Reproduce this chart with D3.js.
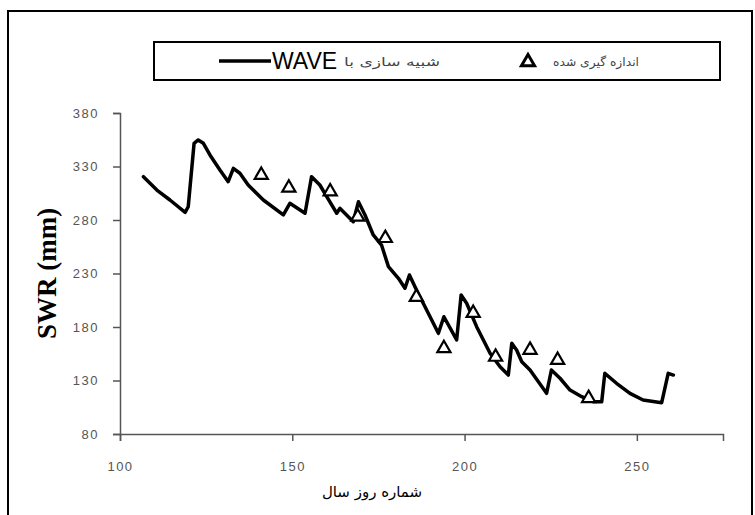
<!DOCTYPE html>
<html lang="fa">
<head>
<meta charset="utf-8">
<title>SWR</title>
<script src="https://cdnjs.cloudflare.com/ajax/libs/d3/7.8.5/d3.min.js"></script>
<style>
  body { margin: 0; background: #fff; }
  svg { display: block; }
</style>
</head>
<body>
<script>
// simulated with WAVE (day of year, SWR mm)
var simDays = [106.8,110.7,114.5,118.9,119.8,121.5,122.7,124.2,126.1,129,131.4,132.9,134.8,137.2,141.6,147.4,149.3,153.7,155.6,158,160,162.9,163.8,167.7,169.2,171.1,173.5,175.9,177.9,180.8,182.7,184,185.6,188,192.4,194,197.7,199,200.6,203.5,207.4,210.3,212.7,213.7,215.1,216.6,219,223.8,225.2,227.7,230.6,234,237.3,239.8,240.7,244.1,248,251.8,257.2,259.1,260.6];
var simSWR = [320.5,308,298.7,287.2,292.4,351.7,354.8,351.7,340.8,326.7,315.8,328.3,323.7,312.7,298.7,284.7,295.6,286.3,320.5,312.7,301.8,286.3,290.9,278.4,297.1,284.7,266,256.6,236.4,225.5,216.2,228.6,217.7,202.2,174.1,189.6,167.9,209.9,202.2,180.3,155.4,142.9,135.1,164.8,158.5,147.6,139.8,118,139.8,132.1,121.1,114.9,110.2,110.2,136.7,127.4,118,111.8,109.3,136.7,135.1];

// measured
var obsDays = [141,149,161,169,177,186,194,202.5,209,219,227,236];
var obsSWR = [322,310,306.5,283,263,208,160,193,152,158.5,149,113.4];

var xTicks = [100,150,200,250];
var yTicks = [80,130,180,230,280,330,380];

var w = 755, h = 515;

var svg = d3.select('body').append('svg')
    .attr('width', w)
    .attr('height', h);

// outer frame
svg.append('rect')
    .attr('x', 8).attr('y', 11)
    .attr('width', 744).attr('height', 510)
    .attr('fill', '#fff')
    .attr('stroke', '#000')
    .attr('stroke-width', 2);

var x = d3.scaleLinear().domain([100, 275]).range([120, 723]);
var y = d3.scaleLinear().domain([80, 380]).range([434, 113]);

var axisColor = '#555';
var tickFont = 'Liberation Sans, Arial, sans-serif';

var xAxis = g => g
    .attr('transform', `translate(0,${y(80)})`)
    .call(d3.axisBottom(x).tickValues(xTicks).tickSize(7).tickPadding(21).tickFormat(d3.format('d')))
    .call(g => g.select('.domain').attr('stroke', axisColor).attr('stroke-width', 1.5))
    .call(g => g.selectAll('.tick line').attr('stroke', axisColor).attr('stroke-width', 1.5))
    .call(g => g.selectAll('.tick text').attr('fill', '#555').attr('font-size', 13)
        .attr('letter-spacing', 1.5).attr('font-family', tickFont));

var yAxis = g => g
    .attr('transform', `translate(${x(100)},0)`)
    .call(d3.axisLeft(y).tickValues(yTicks).tickSize(7).tickPadding(14).tickFormat(d3.format('d')))
    .call(g => g.select('.domain').attr('stroke', axisColor).attr('stroke-width', 1.5))
    .call(g => g.selectAll('.tick line').attr('stroke', axisColor).attr('stroke-width', 1.5))
    .call(g => g.selectAll('.tick text').attr('fill', '#555').attr('font-size', 13)
        .attr('letter-spacing', 1.5).attr('font-family', tickFont));

svg.append('g').call(yAxis);
svg.append('g').call(xAxis);

// simulated line
var line = d3.line()
    .x((d, i) => x(simDays[i]))
    .y(d => y(d));

svg.append('path')
    .datum(simSWR)
    .attr('fill', 'none')
    .attr('stroke', '#000')
    .attr('stroke-width', 3.5)
    .attr('stroke-linejoin', 'round')
    .attr('stroke-linecap', 'round')
    .attr('d', line);

// measured triangles
var tri = d3.symbol().type(d3.symbolTriangle).size(75);

svg.append('g')
  .selectAll('path')
    .data(obsSWR)
    .enter()
    .append('path')
    .attr('d', tri)
    .attr('transform', (d, i) => `translate(${x(obsDays[i])},${y(d)})`)
    .attr('fill', '#fff')
    .attr('stroke', '#000')
    .attr('stroke-width', 2.2);

// axis titles
svg.append('text')
    .attr('transform', `translate(56,${(y(80) + y(380)) / 2}) rotate(-90)`)
    .attr('text-anchor', 'middle')
    .attr('font-family', 'Liberation Serif, Times New Roman, serif')
    .attr('font-weight', 'bold')
    .attr('font-size', 27)
    .text('SWR (mm)');

svg.append('text')
    .attr('x', 372)
    .attr('y', 497)
    .attr('text-anchor', 'middle')
    .attr('font-family', 'DejaVu Serif, DejaVu Sans, serif')
    .attr('font-size', 15)
    .text('شماره روز سال');

// legend
var lg = svg.append('g');
lg.append('rect')
    .attr('x', 154).attr('y', 42)
    .attr('width', 566).attr('height', 38)
    .attr('fill', '#fff')
    .attr('stroke', '#000')
    .attr('stroke-width', 2);

lg.append('line')
    .attr('x1', 219).attr('x2', 271)
    .attr('y1', 61).attr('y2', 61)
    .attr('stroke', '#000')
    .attr('stroke-width', 3.5);

lg.append('text')
    .attr('x', 272).attr('y', 69)
    .attr('font-family', 'Liberation Sans, Arial, sans-serif')
    .attr('font-size', 23)
    .text('WAVE');

lg.append('text')
    .attr('x', 344).attr('y', 66)
    .attr('textLength', 96)
    .attr('lengthAdjust', 'spacingAndGlyphs')
    .attr('font-family', 'DejaVu Sans, sans-serif')
    .attr('font-size', 12)
    .attr('fill', '#444')
    .text('شبیه سازی با');

lg.append('path')
    .attr('d', tri)
    .attr('transform', 'translate(528,62)')
    .attr('fill', '#fff')
    .attr('stroke', '#000')
    .attr('stroke-width', 3);

lg.append('text')
    .attr('x', 553).attr('y', 66)
    .attr('textLength', 86)
    .attr('lengthAdjust', 'spacingAndGlyphs')
    .attr('font-family', 'DejaVu Sans, sans-serif')
    .attr('font-size', 12)
    .attr('fill', '#444')
    .text('اندازه گیری شده');
</script>
</body>
</html>
